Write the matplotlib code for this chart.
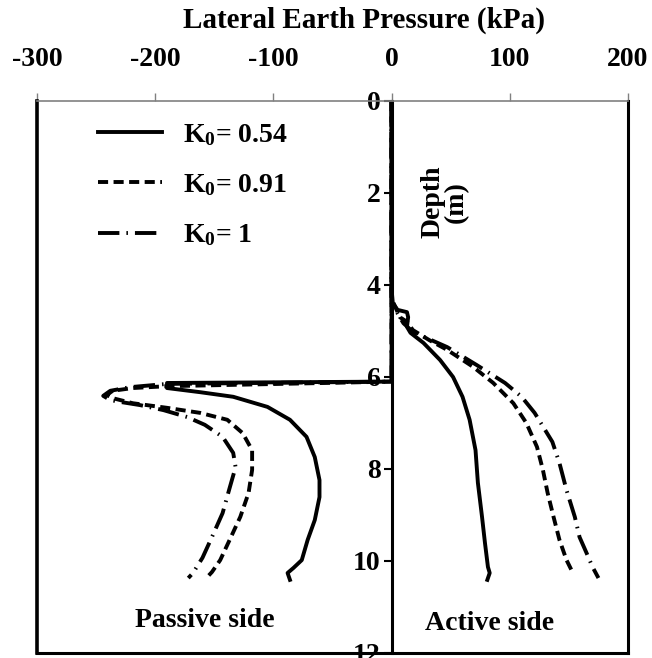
import matplotlib.pyplot as plt

plt.rcParams['font.family'] = ['Liberation Serif', 'DejaVu Serif']
plt.rcParams['font.weight'] = 'bold'
plt.rcParams['mathtext.default'] = 'regular'
plt.rcParams['axes.unicode_minus'] = False

labels = ['K$_0$= 0.54', 'K$_0$= 0.91', 'K$_0$= 1']

# passive side (pressure < 0), depth in m
pas_d_054 = [0, 6.10, 6.13, 6.24, 6.33, 6.43, 6.65, 6.93, 7.30, 7.74, 8.24, 8.61,
             9.11, 9.54, 9.98, 10.15, 10.26, 10.41]
pas_p_054 = [0, 0, -190, -190, -162, -134, -105, -86, -72, -65, -61, -61,
             -65, -71, -76, -83, -88, -86]
pas_d_091 = [0, 6.10, 6.20, 6.24, 6.30, 6.39, 6.46, 6.57, 6.67, 6.78, 6.93, 7.22,
             7.59, 8.02, 8.52, 9.04, 9.54, 9.98, 10.24, 10.35]
pas_p_091 = [0, 0, -190, -219, -236, -241, -236, -219, -190, -162, -139, -126,
             -118, -118, -121, -128, -137, -145, -152, -156]
pas_d_1 = [0, 6.10, 6.15, 6.22, 6.30, 6.41, 6.50, 6.54, 6.61, 6.72, 6.87, 7.04,
           7.30, 7.65, 7.96, 8.41, 8.96, 9.48, 9.93, 10.26, 10.37]
pas_p_1 = [0, 0, -190, -221, -238, -244, -238, -230, -213, -193, -173, -158,
           -143, -134, -132, -137, -143, -152, -160, -168, -172]

# active side (pressure > 0)
act_d_054 = [0, 4.10, 4.39, 4.54, 4.59, 4.70, 4.91, 5.04, 5.26, 5.63, 6.00, 6.43,
             6.93, 7.59, 8.30, 9.04, 9.61, 10.13, 10.26, 10.41]
act_p_054 = [0, 0, 1, 5, 13, 14, 13, 16, 27, 41, 52, 60,
             66, 71, 73, 76.5, 79, 81.5, 83, 81]
act_d_091 = [0, 4.30, 4.70, 4.80, 4.98, 5.20, 5.41, 5.78, 6.13, 6.57, 7.00, 7.52,
             8.02, 8.52, 9.04, 9.54, 9.98, 10.24]
act_p_091 = [0, 0, 7, 13, 18, 32, 47, 69, 86, 103, 114, 123,
             128, 132, 137, 142, 148, 153]
act_d_1 = [0, 4.40, 4.83, 5.02, 5.35, 5.74, 6.13, 6.43, 6.78, 7.41, 7.87, 8.46,
           9.04, 9.48, 9.83, 10.13, 10.37]
act_p_1 = [0, 0, 10, 18, 47, 72, 96, 110, 121, 136, 142, 148,
           155, 159, 165, 170, 175]

styles = ['-', (0, (2.6, 1.4)), (0, (5.5, 1.8, 0.4, 1.8))]

fig = plt.figure(figsize=(6.52, 6.58), dpi=100)
ax = fig.add_axes([37/652, 1 - 653/658, 591/652, 552/658])

series = [(pas_p_054, pas_d_054, act_p_054, act_d_054),
          (pas_p_091, pas_d_091, act_p_091, act_d_091),
          (pas_p_1, pas_d_1, act_p_1, act_d_1)]
for (pp, pd, ap, ad), ls, lab in zip(series, styles, labels):
    ax.plot(pp, pd, color='black', lw=2.8, ls=ls, label=lab)
    ax.plot(ap, ad, color='black', lw=2.8, ls=ls)

ax.set_xlim(-300, 200)
ax.set_ylim(12, 0)

# x axis on top, thin grey
ax.xaxis.tick_top()
ax.set_xticks([-300, -200, -100, 0, 100, 200])
ax.tick_params(axis='x', direction='out', length=6, width=1, color='#808080',
               pad=15, labelsize=20)
ax.spines['top'].set_color('#808080')
ax.spines['top'].set_linewidth(1.2)
fig.text(364/652, 1 - 20/658, 'Lateral Earth Pressure (kPa)', ha='center', va='center',
         fontsize=21, fontweight='bold')

# depth axis through zero
ax.spines['left'].set_position(('data', 0))
ax.spines['left'].set_linewidth(2.2)
ax.set_yticks([0, 2, 4, 6, 8, 10, 12])
ax.tick_params(axis='y', direction='out', length=6, width=1.5, pad=2, labelsize=20)
for s in ['right', 'bottom']:
    ax.spines[s].set_linewidth(2.2)
ax.plot([0, 0], [0, 1], transform=ax.transAxes, color='black', lw=2.6, clip_on=False)

ax.text(45, 2.2, 'Depth\n(m)', rotation=90, ha='center', va='center', fontsize=20,
        fontweight='bold', linespacing=0.9)
ax.text(-158, 11.3, 'Passive side', ha='center', va='center', fontsize=20, fontweight='bold')
ax.text(83, 11.35, 'Active side', ha='center', va='center', fontsize=20, fontweight='bold')

ax.legend(loc='upper left', bbox_to_anchor=(0.104, 0.962), frameon=False, fontsize=20,
          handlelength=2.3, handletextpad=0.75, labelspacing=0.88, borderpad=0,
          borderaxespad=0)

plt.savefig('out.png', dpi=100)
